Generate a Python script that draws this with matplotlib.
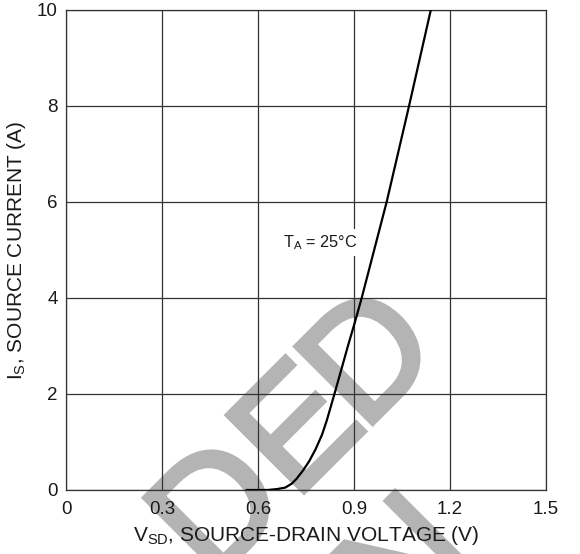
import numpy as np
import matplotlib.pyplot as plt
from matplotlib.textpath import TextPath
from matplotlib.patches import PathPatch
from matplotlib.font_manager import FontProperties
from matplotlib.transforms import Affine2D, IdentityTransform

plt.rcParams['font.family'] = ['Liberation Sans', 'DejaVu Sans']
plt.rcParams['mathtext.fontset'] = 'custom'
plt.rcParams['mathtext.rm'] = 'Liberation Sans'
plt.rcParams['mathtext.it'] = 'Liberation Sans'

# source-drain diode forward curve
vsd = [0.565, 0.63, 0.66, 0.685, 0.705, 0.72, 0.74, 0.76, 0.78, 0.80, 0.815,
       0.838, 0.86, 0.881, 0.903, 0.924, 0.963, 1.002, 1.037, 1.072, 1.106, 1.140]
i_s = [0.0, 0.0, 0.02, 0.05, 0.13, 0.23, 0.40, 0.60, 0.85, 1.15, 1.45,
       1.98, 2.5, 3.0, 3.5, 4.0, 5.0, 6.0, 7.0, 8.0, 9.0, 10.0]

x_ticks = [0, 0.3, 0.6, 0.9, 1.2, 1.5]
x_labels = ['0', '0.3', '0.6', '0.9', '1.2', '1.5']
y_ticks = [0, 2, 4, 6, 8, 10]

W, H = 580, 554
fig = plt.figure(figsize=(W / 100, H / 100), dpi=100)
ax = fig.add_axes([66 / W, 64 / H, 480 / W, 480 / H])
ax.set_zorder(1)

# watermark letters, rotated 45 deg; u runs along the baseline, w is "up"
fp = FontProperties(family='Liberation Sans')
cap_px = 109
size = 100 * cap_px / TextPath((0, 0), 'H', size=100, prop=fp).get_extents().height
wm_color = '#b4b4b4'


def glyph(ch, u_edge, w_base, align='left'):
    tp = TextPath((0, 0), ch, size=size, prop=fp)
    ext = tp.get_extents()
    dx = -ext.x0 if align == 'left' else -ext.x1
    tr = Affine2D().translate(dx + u_edge, w_base).rotate_deg(45).translate(0, H)
    p = PathPatch(tr.transform_path(tp), transform=IdentityTransform(),
                  facecolor=wm_color, edgecolor=wm_color, lw=3.5, zorder=0)
    fig.add_artist(p)


glyph('D', -250, -563)
glyph('E', -133, -563)
glyph('D', -36, -563)
glyph('N', -68, -736, align='right')

ax.set_facecolor('none')
ax.plot(vsd, i_s, color='black', lw=1.6, zorder=3)

ax.set_xlim(0, 1.5)
ax.set_ylim(0, 10)
ax.set_xticks(x_ticks)
ax.set_xticklabels(x_labels)
ax.set_yticks(y_ticks)
ax.tick_params(length=0, labelsize=13.5, colors='#1a1a1a')
ax.tick_params(axis='x', pad=8)
ax.tick_params(axis='y', pad=6)
ax.grid(True, color='#333333', lw=0.9, zorder=2)
ax.set_axisbelow(False)
for s in ax.spines.values():
    s.set_color('#333333')
    s.set_linewidth(0.9)

ax.text(0.795, 5.15, r'T$_\mathrm{A}$ = 25°C', fontsize=11.7, ha='center', va='center',
        color='#1a1a1a', zorder=4,
        bbox=dict(facecolor='white', edgecolor='none', pad=3))

ax.set_xlabel(r'V$_\mathrm{SD}$, SOURCE-DRAIN VOLTAGE (V)', fontsize=15, color='#1a1a1a', labelpad=4)
ax.set_ylabel(r'I$_\mathrm{S}$, SOURCE CURRENT (A)', fontsize=15, color='#1a1a1a', labelpad=6)

fig.savefig('out.png', dpi=100)
